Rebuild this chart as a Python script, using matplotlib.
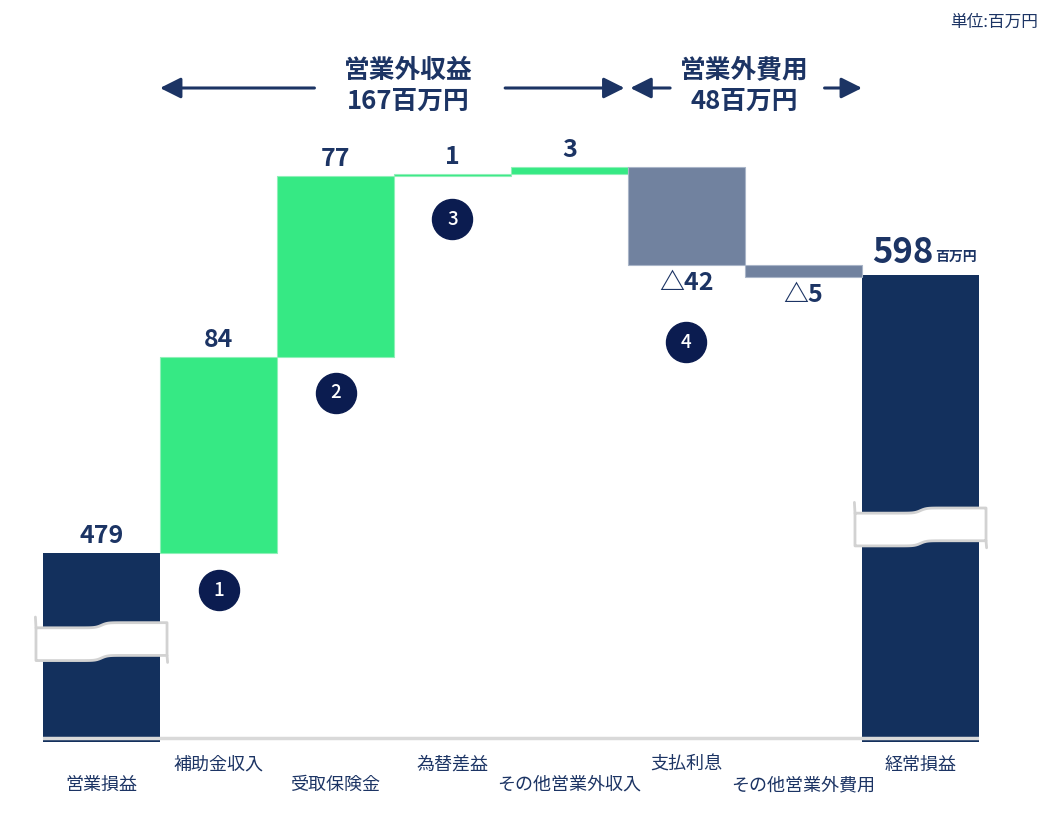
import numpy as np
import matplotlib
matplotlib.use('Agg')
import matplotlib.pyplot as plt
from matplotlib.patches import Polygon

plt.rcParams['font.family'] = ['Noto Sans CJK JP', 'DejaVu Sans']

# data (百万円)
categories = ['営業損益', '補助金収入', '受取保険金', '為替差益',
              'その他営業外収入', '支払利息', 'その他営業外費用', '経常損益']
start_value = 479
changes = [84, 77, 1, 3, -42, -5]
end_value = 598
income_total = 167
expense_total = 48
circle_labels = ['1', '2', '3', '4']
circle_bars = [1, 2, 3, 5]

NAVY = '#13305d'
GREEN = '#36e984'
GRAY = '#71829f'
TEXT = '#1c3464'
CIRCLE = '#0b1c50'

W, H = 1052, 817
PX = 2.34            # pixels per unit on the y axis
BASE = 400           # value drawn at the baseline (axis is broken)
YBOT, YTOP = 398.3, 690

fig = plt.figure(figsize=(W / 100, H / 100), dpi=100)
ax = fig.add_axes([43 / W, (H - 742) / H, 936 / W, (YTOP - YBOT) * PX / H])
ax.set_xlim(-0.5, 7.5)
ax.set_ylim(YBOT, YTOP)
ax.axis('off')

# waterfall geometry
levels = start_value + np.cumsum(changes)
prev = np.concatenate([[start_value], levels[:-1]])
bottoms = np.minimum(prev, levels)
heights = np.abs(changes)
xs = np.arange(len(categories))

ax.bar([0, 7], [start_value - YBOT, end_value - YBOT], bottom=YBOT,
       width=1.0, color=NAVY, zorder=2)
colors = [GREEN if c > 0 else GRAY for c in changes]
edges = ['#8ff0b8' if c > 0 else '#a9b5c8' for c in changes]
ax.bar(xs[1:7], heights, bottom=bottoms, width=1.0, color=colors,
       edgecolor=edges, linewidth=0.8, zorder=2)

# baseline
ax.axhline(BASE, color='#d9d9d9', lw=2.5, zorder=3)


def draw_break(xc, yc):
    t = np.linspace(-0.56, 0.56, 80)
    step = 1.1 * np.tanh(t / 0.05)
    top = yc + 7 + step
    bot = yc - 7 + step
    pts = np.column_stack([np.r_[xc + t, xc + t[::-1]], np.r_[top, bot[::-1]]])
    ax.add_patch(Polygon(pts, closed=True, fc='white', ec='#d2d2d2', lw=2,
                         joinstyle='round', zorder=4, clip_on=False))
    ax.plot([xc - 0.56, xc - 0.565], [top[0], top[0] + 4.6], color='#d2d2d2',
            lw=2, solid_capstyle='round', zorder=4, clip_on=False)
    ax.plot([xc + 0.56, xc + 0.565], [bot[-1], bot[-1] - 3], color='#d2d2d2',
            lw=2, solid_capstyle='round', zorder=4, clip_on=False)


draw_break(0, 441.2)
draw_break(7, 490.2)

# value labels
label_kw = dict(textcoords='offset pixels', ha='center', color=TEXT,
                fontweight='bold', zorder=5)
ax.annotate(str(start_value), (0, start_value), xytext=(0, 5), va='bottom',
            fontsize=18, **label_kw)
for x, c, b, h in zip(xs[1:7], changes, bottoms, heights):
    if c > 0:
        ax.annotate(str(c), (x, b + h), xytext=(0, 5), va='bottom',
                    fontsize=18, **label_kw)
    else:
        ax.annotate('△' + str(-c), (x, b), xytext=(0, -6), va='top',
                    fontsize=18, **label_kw)
ax.annotate(str(end_value), (7, end_value), xytext=(13, 5), va='bottom',
            textcoords='offset pixels', ha='right', color=TEXT,
            fontweight='bold', fontsize=25)
ax.annotate('百万円', (7, end_value), xytext=(15, 11), va='bottom',
            textcoords='offset pixels', ha='left', color=TEXT,
            fontweight='bold', fontsize=10)

# numbered circles below the bars
circle_offsets = [37, 36, 43, 77]
for lab, bi, off in zip(circle_labels, circle_bars, circle_offsets):
    y = bottoms[bi - 1] - off / PX
    ax.scatter([bi], [y], s=830, color=CIRCLE, zorder=5, clip_on=False)
    ax.text(bi, y, lab, ha='center', va='center', color='white',
            fontsize=13.5, fontweight='medium', zorder=6)

# category labels, staggered
for i, name in enumerate(categories):
    yf = (H - 785) / H if i % 2 == 0 else (H - 765) / H
    ax.annotate(name, (i, yf), xycoords=('data', 'figure fraction'),
                ha='center', va='center', color=TEXT, fontsize=13)

# group headers with arrows
hdr = dict(xycoords=('data', 'figure fraction'), ha='center', va='center',
           color=TEXT, fontweight='bold', fontsize=18.5, annotation_clip=False)
ax.annotate('営業外収益', (2.62, (H - 70) / H), **hdr)
ax.annotate(f'{income_total}百万円', (2.62, (H - 101) / H), **hdr)
ax.annotate('営業外費用', (5.49, (H - 70) / H), **hdr)
ax.annotate(f'{expense_total}百万円', (5.49, (H - 101) / H), **hdr)

ya = (H - 88) / H
arrow = dict(arrowstyle='-|>,head_length=0.9,head_width=0.45', lw=2.2,
             color=TEXT, shrinkA=0, shrinkB=0, mutation_scale=14)
for x0, x1 in [(1.82, 0.5), (3.45, 4.47), (4.86, 4.52), (6.18, 6.5)]:
    ax.annotate('', xy=(x1, ya), xytext=(x0, ya),
                xycoords=('data', 'figure fraction'),
                textcoords=('data', 'figure fraction'),
                arrowprops=arrow, annotation_clip=False)

fig.text(1038 / W, (H - 22) / H, '単位:百万円', ha='right', va='center',
         color=TEXT, fontsize=12)

fig.savefig('out.png', dpi=100)
